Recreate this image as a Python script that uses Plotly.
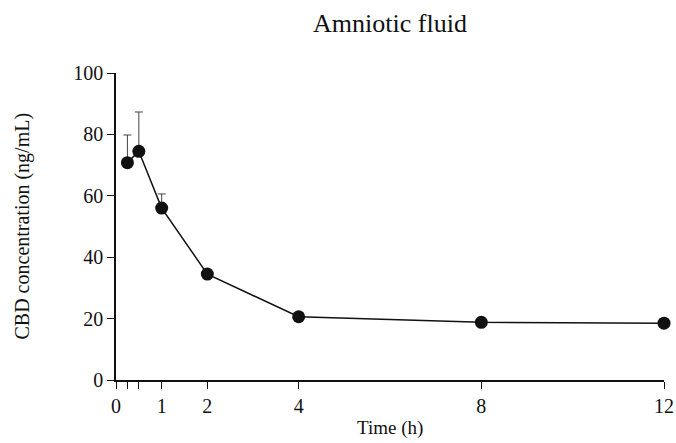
import plotly.graph_objects as go

time_h = [0.25, 0.5, 1, 2, 4, 8, 12]
conc = [70.8, 74.5, 56.0, 34.5, 20.6, 18.8, 18.5]
err_up = [9.0, 12.8, 4.6, 0, 0, 0, 0]
x_tickvals = [0, 0.25, 0.5, 1, 2, 4, 8, 12]
x_ticktext = ["0", "", "", "1", "2", "4", "8", "12"]
y_tickvals = [0, 20, 40, 60, 80, 100]

font = "Liberation Serif, Times New Roman, serif"

W, H = 676, 443
L, R, T, B = 116, 12, 73, 63
pw, ph = W - L - R, H - T - B

fig = go.Figure()
fig.add_trace(go.Scatter(
    x=time_h, y=conc, mode="lines+markers",
    line=dict(color="#111111", width=1.5),
    marker=dict(color="#111111", size=13),
    error_y=dict(type="data", symmetric=False, array=err_up,
                 arrayminus=[0]*len(err_up), color="#444444",
                 thickness=1, width=4),
    cliponaxis=False, showlegend=False,
))

axis_common = dict(showgrid=False, zeroline=False, showline=True,
                   linecolor="#111111", linewidth=1.5, ticks="outside",
                   ticklen=7, tickwidth=1.2, tickcolor="#111111",
                   tickfont=dict(size=20, family=font, color="#111111"),
                   automargin=False, ticklabeloverflow="allow")

fig.update_layout(
    width=W, height=H,
    margin=dict(l=L, r=R, t=T, b=B),
    paper_bgcolor="white", plot_bgcolor="white",
    font=dict(family=font, color="#111111"),
    title=dict(text="Amniotic fluid", x=0.5, xref="paper", xanchor="center",
               y=1 - 14/H, yanchor="top", font=dict(size=26, family=font)),
    xaxis=dict(range=[0, 12], tickvals=x_tickvals, ticktext=x_ticktext, **axis_common),
    yaxis=dict(range=[0, 100], tickvals=y_tickvals, **axis_common),
    annotations=[
        dict(text="Time (h)", xref="paper", yref="paper", x=0.5, y=-48 / ph,
             xanchor="center", yanchor="middle", showarrow=False,
             font=dict(size=19, family=font, color="#111111")),
        dict(text="CBD concentration (ng/mL)", xref="paper", yref="paper",
             x=-94 / pw, y=0.5, xanchor="center", yanchor="middle",
             textangle=-90, showarrow=False,
             font=dict(size=20, family=font, color="#111111")),
    ],
)

fig.write_html("out.html",
               config={"displayModeBar": False},
               post_script="document.body.style.margin='0';document.body.style.overflow='hidden';")
